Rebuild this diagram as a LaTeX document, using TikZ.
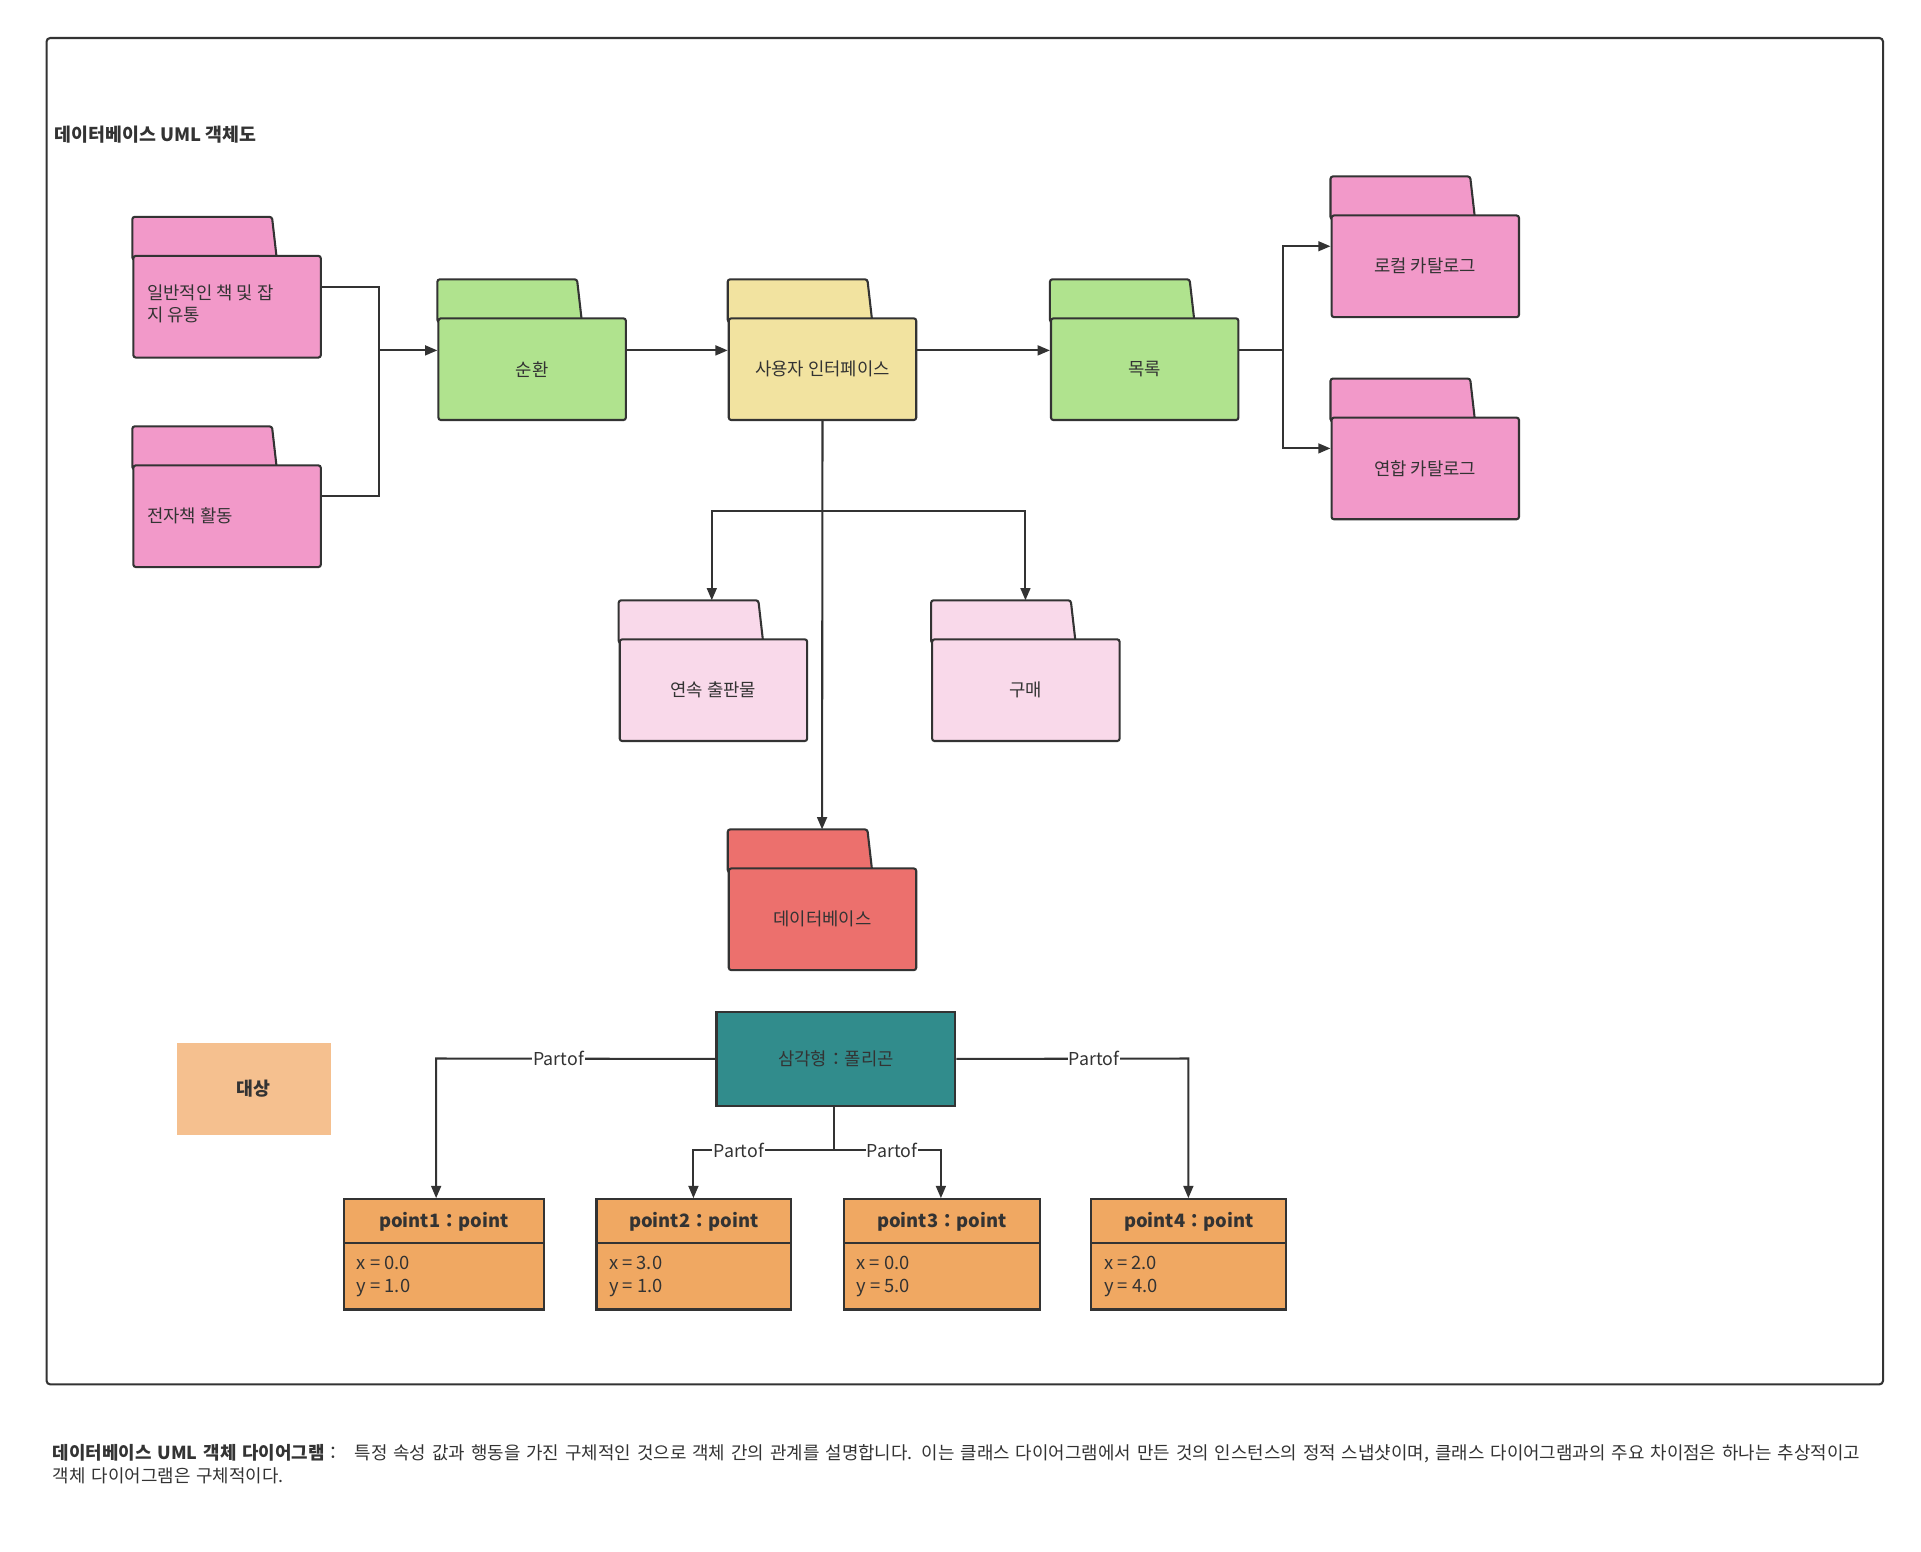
\documentclass[tikz,border=0pt]{standalone}
\usepackage{fontspec}
\setmainfont{Noto Sans CJK KR}
\usetikzlibrary{arrows.meta,calc}
\definecolor{pk}{HTML}{F299C9}
\definecolor{gr}{HTML}{B0E38E}
\definecolor{ye}{HTML}{F2E3A0}
\definecolor{lp}{HTML}{F9D9EA}
\definecolor{rd}{HTML}{EC706D}
\definecolor{tl}{HTML}{318C8C}
\definecolor{ob}{HTML}{F0A862}
\definecolor{lo}{HTML}{F5C08F}
\definecolor{ln}{HTML}{333333}
\tikzset{
 folderbox/.style={draw=ln,line width=1.7pt,rounded corners=2pt,minimum width=153pt,minimum height=83pt,inner sep=0pt,font=\fontsize{14}{18}\selectfont,text=ln},
 conn/.style={draw=ln,line width=1.7pt,-{Triangle[length=10pt,width=8pt]}},
 plain/.style={draw=ln,line width=1.7pt},
 lbl/.style={fill=white,inner sep=1pt,font=\fontsize{14.5}{16}\selectfont,text=ln},
 ptitle/.style={draw=ln,line width=1.7pt,fill=ob,minimum height=36pt,inner sep=0pt,font=\bfseries\fontsize{15}{18}\selectfont,text=ln,anchor=north west},
 pbody/.style={draw=ln,line width=1.7pt,fill=ob,minimum height=54pt,inner sep=0pt,anchor=north west}
}
\newcommand\fold[6]{%
 \fill[#4,draw=ln,line width=1.7pt,rounded corners=2pt] (#2,#3+4) -- (#2,#3-31) -- (#2+114,#3-31) -- (#2+118,#3+4) -- cycle;
 \node[folderbox,fill=#4,anchor=north west] (#1) at (#2,#3) {};
 \node[font=\fontsize{14.5}{18}\selectfont,text=ln,#6] at (#1.center) {#5};}
\newcommand\pbox[5]{% name x width xline yline
 \node[ptitle,minimum width=#3] (#1) at (#2,978) {#1：point};
 \node[pbody,minimum width=#3] (#1b) at (#2,1014) {};
 \node[anchor=north west,inner sep=0pt,align=left,font=\fontsize{15}{19}\selectfont,text=ln] at (#2+11,1025) {x = #4\\y = #5};}
\begin{document}
\begin{tikzpicture}[x=1pt,y=-1pt]
\useasboundingbox (0,0) rectangle (1568,1266);
\draw[ln,line width=1.7pt,rounded corners=3pt] (38,31) rectangle (1537,1130);
\node[anchor=west,font=\bfseries\fontsize{15}{18}\selectfont,text=ln] (title) at (41,110) {데이터베이스 UML 객체도};
\fold{a}{108}{208}{pk}{}{}
\node[anchor=north west,align=left,inner sep=0pt,font=\fontsize{14.5}{18}\selectfont,text=ln] (at) at (120,232) {일반적인 책 및 잡\\지 유통};
\fold{b}{108}{379}{pk}{}{}
\node[anchor=west,inner sep=0pt,font=\fontsize{14.5}{18}\selectfont,text=ln] (bt) at (120,421) {전자책 활동};
\fold{c}{357}{259}{gr}{순환}{}
\fold{ui}{594}{259}{ye}{사용자 인터페이스}{}
\fold{m}{857}{259}{gr}{목록}{}
\fold{lc}{1086}{175}{pk}{로컬 카탈로그}{}
\fold{fc}{1086}{340}{pk}{연합 카탈로그}{}
\fold{s}{505}{521}{lp}{연속 출판물}{}
\fold{p}{760}{521}{lp}{구매}{}
\fold{db}{594}{708}{rd}{데이터베이스}{}
\coordinate (dbtab) at (671,677);
\coordinate (stab) at (581,490);
\coordinate (ptab) at (837,490);
\draw[plain] (a.east |- 0,234) -- (309,234) -- (309,286);
\draw[plain] (b.east |- 0,405) -- (309,405) -- (309,286);
\draw[conn] (309,286) -- (c.west |- 0,286);
\draw[conn] (c.east |- 0,286) -- (ui.west |- 0,286);
\draw[conn] (ui.east |- 0,286) -- (m.west |- 0,286);
\draw[conn] (m.east |- 0,286) -- (1047,286) |- (lc.west |- 0,201);
\draw[conn] (m.east |- 0,286) -- (1047,286) |- (fc.west |- 0,366);
\draw[conn] (ui.south) -- (dbtab);
\draw[conn] (671,417) -| (stab);
\draw[conn] (671,417) -| (ptab);
\node[draw=ln,line width=1.7pt,fill=tl,minimum width=195pt,minimum height=77pt,inner sep=0pt,anchor=north west,font=\fontsize{14.5}{18}\selectfont,text=ln] (t) at (584,825) {삼각형：폴리곤};
\node[fill=lo,minimum width=126pt,minimum height=75pt,anchor=north west,font=\bfseries\fontsize{15}{18}\selectfont,text=ln] (obj) at (144,851) {대상};
\pbox{point1}{280}{163pt}{0.0}{1.0}
\pbox{point2}{486}{159pt}{3.0}{1.0}
\pbox{point3}{688}{160pt}{0.0}{5.0}
\pbox{point4}{890}{159pt}{2.0}{4.0}
\draw[conn] (t.west) -- (356,864) -- (356,978);
\node[lbl] at (456,864) {Partof};
\draw[conn] (t.east) -- (970,864) -- (970,978);
\node[lbl] at (893,864) {Partof};
\draw[conn] (t.south -| 681,0) -- (681,939) -- (566,939) -- (566,978);
\draw[conn] (681,939) -- (768,939) -- (768,978);
\node[lbl] at (603,939) {Partof};
\node[lbl] at (728,939) {Partof};
\node[anchor=north west,inner sep=0pt,text width=1475pt,align=left,font=\fontsize{14.6}{18.5}\selectfont,text=ln] (foot) at (43,1179) {\textbf{데이터베이스 UML 객체 다이어그램}：\ \ 특정 속성 값과 행동을 가진 구체적인 것으로 객체 간의 관계를 설명합니다. 이는 클래스 다이어그램에서 만든 것의 인스턴스의 정적 스냅샷이며, 클래스 다이어그램과의 주요 차이점은 하나는 추상적이고 객체 다이어그램은 구체적이다.};
\end{tikzpicture}
\end{document}
